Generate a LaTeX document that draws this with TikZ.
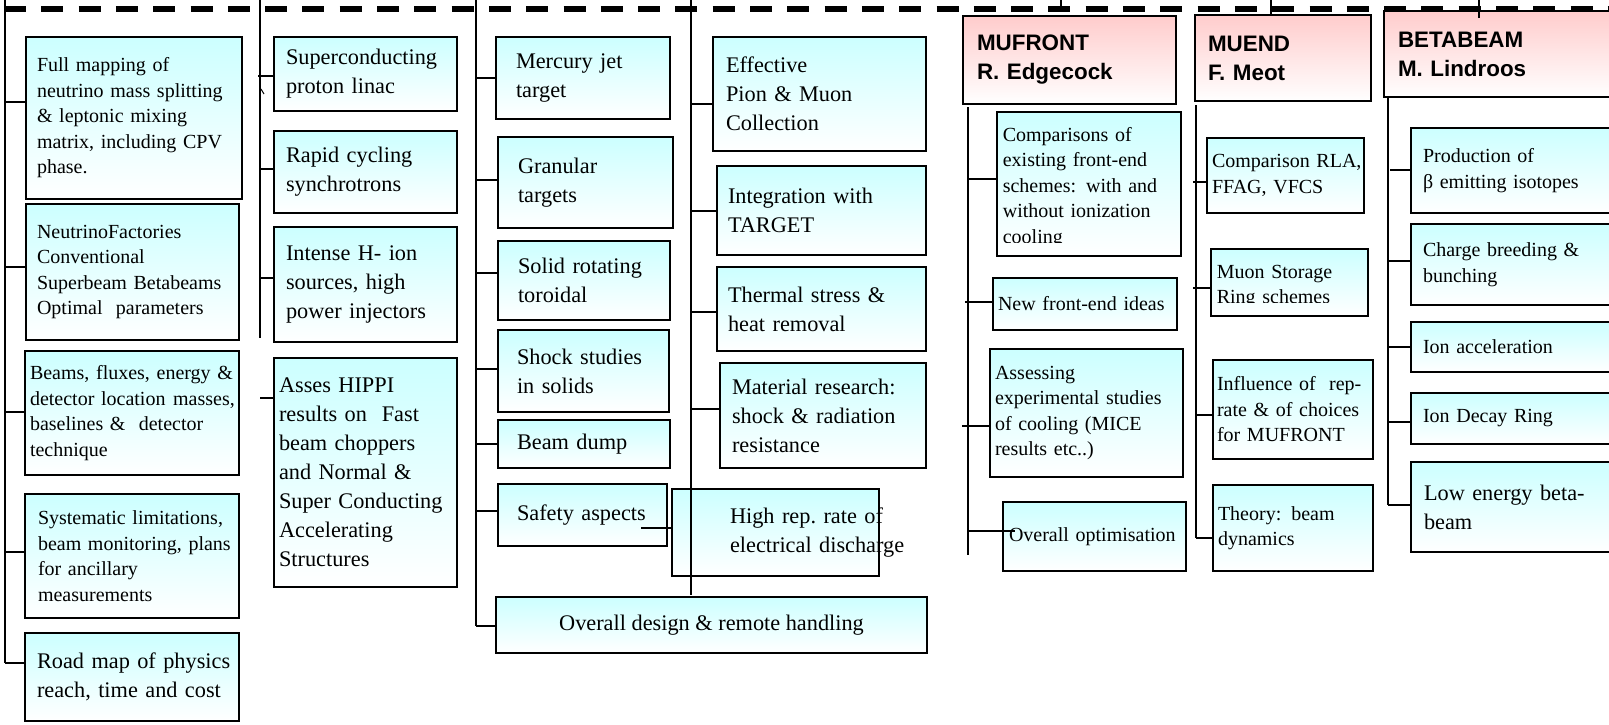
\documentclass[tikz,border=0pt]{standalone}
\usepackage{fontspec}
\setmainfont{Liberation Serif}
\newfontfamily\hdfont{Liberation Sans}
\hyphenpenalty=10000
\exhyphenpenalty=10000
\definecolor{bx_cyan}{RGB}{204, 255, 255}
\definecolor{bx_pink}{RGB}{255, 204, 204}
\tikzstyle{cb}=[rectangle,draw=black,top color=bx_cyan,bottom color=white,
  inner sep=0pt,align=left,font=\fontsize{22.3}{29}\selectfont]
\tikzstyle{cs}=[cb,font=\fontsize{20}{25.5}\selectfont]
\tikzstyle{pb}=[rectangle,draw=black,top color=bx_pink,bottom color=white,
  inner sep=0pt,align=left,font=\hdfont\bfseries\fontsize{22.4}{29}\selectfont]
\tikzstyle{tx}=[inner sep=0pt,align=left,font=\fontsize{20}{25.5}\selectfont]
\tikzstyle{dl}=[line width=6.4pt,dash pattern=on 22pt off 15.3pt]
\tikzstyle{none}=[]

\begin{document}
\begin{tikzpicture}[x=1pt,y=-1pt,line width=1.6pt]
            \useasboundingbox (0, 0) rectangle (1609, 725);
            \clip (0, 0) rectangle (1609, 725);
            % free ends
            \node [style=none] (101) at (5, 0) {};
            \node [style=none] (102) at (5, 102) {};
            \node [style=none] (103) at (5, 267) {};
            \node [style=none] (104) at (5, 412) {};
            \node [style=none] (105) at (5, 552) {};
            \node [style=none] (106) at (5, 663) {};
            \node [style=none] (107) at (260, 0) {};
            \node [style=none] (108) at (258, 76) {};
            \node [style=none] (109) at (260, 169) {};
            \node [style=none] (110) at (260, 278) {};
            \node [style=none] (111) at (260, 338) {};
            \node [style=none] (112) at (260, 398) {};
            \node [style=none] (113) at (261, 89) {};
            \node [style=none] (114) at (264, 94) {};
            \node [style=none] (115) at (476, 0) {};
            \node [style=none] (116) at (476, 78) {};
            \node [style=none] (117) at (476, 180) {};
            \node [style=none] (118) at (476, 273) {};
            \node [style=none] (119) at (476, 369) {};
            \node [style=none] (120) at (476, 444) {};
            \node [style=none] (121) at (476, 511) {};
            \node [style=none] (122) at (476, 626) {};
            \node [style=none] (123) at (691, 0) {};
            \node [style=none] (124) at (691, 104) {};
            \node [style=none] (125) at (691, 211) {};
            \node [style=none] (126) at (691, 312) {};
            \node [style=none] (127) at (691, 409) {};
            \node [style=none] (128) at (691, 595) {};
            \node [style=none] (129) at (641, 528) {};
            \node [style=none] (130) at (4, 9) {};
            \node [style=none] (131) at (1609, 9) {};
            \node [style=none] (132) at (1061, 0) {};
            \node [style=none] (133) at (1061, 12) {};
            \node [style=none] (134) at (1271, 0) {};
            \node [style=none] (135) at (1271, 14) {};
            \node [style=none] (136) at (1479, 0) {};
            \node [style=none] (137) at (1479, 18) {};
            \node [style=none] (138) at (968, 107) {};
            \node [style=none] (139) at (968, 179) {};
            \node [style=none] (140) at (965, 302) {};
            \node [style=none] (141) at (962, 426) {};
            \node [style=none] (142) at (968, 531) {};
            \node [style=none] (143) at (968, 555) {};
            \node [style=none] (144) at (1015, 531) {};
            \node [style=none] (145) at (1196, 105) {};
            \node [style=none] (146) at (1193, 182) {};
            \node [style=none] (147) at (1193, 288) {};
            \node [style=none] (148) at (1196, 415) {};
            \node [style=none] (149) at (1196, 538) {};
            \node [style=none] (150) at (1388, 97) {};
            \node [style=none] (151) at (1390, 170) {};
            \node [style=none] (152) at (1388, 261) {};
            \node [style=none] (153) at (1388, 347) {};
            \node [style=none] (154) at (1388, 422) {};
            \node [style=none] (155) at (1388, 505) {};
            \draw [style=dl] (130.center) to (131.center);
            % physics column
            \node [style=cs, minimum width=216pt, minimum height=162pt, text width=194pt] (1) at (134, 118) {Full mapping of\\neutrino~mass~splitting\\\& leptonic mixing\\matrix,~including~CPV\\phase.};
            \node [style=cs, minimum width=213pt, minimum height=136pt, text width=191pt] (2) at (132.5, 272) {NeutrinoFactories\\Conventional\\Superbeam~Betabeams\\Optimal~~parameters};
            \node [style=cs, minimum width=214pt, minimum height=124pt, text width=204pt] (3) at (132, 413) {Beams,~fluxes,~energy~\&\\detector~location~\kern1pt masses,\\baselines~\&~~detector\\technique};
            \node [style=cs, minimum width=214pt, minimum height=124pt, text width=188pt] (4) at (132, 556) {Systematic~limitations,\\beam~monitoring,~plans\\for ancillary\\measurements};
            \node [style=cb, minimum width=214pt, minimum height=88pt, text width=190pt] (5) at (132, 677) {Road~map~of~physics\\reach,~time~and~cost};
            % proton driver column
            \node [style=cb, minimum width=183pt, minimum height=74pt, text width=159pt] (6) at (365.5, 74) {Superconducting\\proton linac};
            \node [style=cb, minimum width=183pt, minimum height=82pt, text width=159pt] (7) at (365.5, 172) {Rapid cycling\\synchrotrons};
            \node [style=cb, minimum width=183pt, minimum height=115pt, text width=159pt] (8) at (365.5, 284.5) {Intense H- ion\\sources, high\\power~injectors};
            \node [style=cb, minimum width=183pt, minimum height=229pt, text width=173pt] (9) at (365.5, 472.5) {Asses HIPPI\\results~on~~Fast\\beam~choppers\\and~Normal~\&\\Super~Conducting\\Accelerating\\Structures};
            % target column
            \node [style=cb, minimum width=174pt, minimum height=82pt, text width=134pt] (10) at (583, 78) {Mercury~jet\\target};
            \node [style=cb, minimum width=175pt, minimum height=91pt, text width=135pt] (11) at (585.5, 182.5) {Granular\\targets};
            \node [style=cb, minimum width=172pt, minimum height=79pt, text width=132pt] (12) at (584, 280.5) {Solid~rotating\\toroidal};
            \node [style=cb, minimum width=171pt, minimum height=82pt, text width=133pt] (13) at (583.5, 371) {Shock~studies\\in solids};
            \node [style=cb, minimum width=172pt, minimum height=48pt, text width=134pt] (14) at (584, 444) {Beam~dump};
            \node [style=cb, minimum width=169pt, minimum height=62pt, text width=131pt] (15) at (582.5, 515) {Safety~aspects};
            \node [style=cb, minimum width=431pt, minimum height=56pt] (16) at (711.5, 625) {Overall design \& remote handling};
            % collection column
            \node [style=cb, minimum width=213pt, minimum height=114pt, text width=187pt] (17) at (819.5, 94) {Effective\\Pion~\&~Muon\\Collection};
            \node [style=cb, minimum width=209pt, minimum height=89pt, text width=187pt] (18) at (821.5, 210.5) {Integration~with\\TARGET};
            \node [style=cb, minimum width=209pt, minimum height=84pt, text width=187pt] (19) at (821.5, 309) {Thermal~stress~\&\\heat removal};
            \node [style=cb, minimum width=206pt, minimum height=105pt, text width=182pt] (20) at (823, 415.5) {Material~research:\\shock~\&~radiation\\resistance};
            \node [style=cb, minimum width=207pt, minimum height=87pt, text width=91pt] (21) at (775.5, 532.5) {High~rep.~rate~of\\electrical~discharge};
            % work package heads
            \node [style=pb, minimum width=213pt, minimum height=88pt, text width=185pt] (22) at (1069.5, 60) {MUFRONT\\R.~Edgecock};
            \node [style=pb, minimum width=176pt, minimum height=86pt, text width=150pt] (23) at (1283, 58) {MUEND\\F.~Meot};
            \node [style=pb, minimum width=256pt, minimum height=86pt, text width=228pt] (24) at (1512, 54) {BETABEAM\\M.~Lindroos};
            % mufront column
            \node [style=cs, minimum width=184pt, minimum height=144pt] (25) at (1089, 184) {};
            \node [style=cs, minimum width=184pt, minimum height=52pt, text width=174pt] (26) at (1085, 304) {New~front-end~ideas};
            \node [style=cs, minimum width=193pt, minimum height=128pt, text width=183pt] (27) at (1086.5, 413) {Assessing\\experimental~studies\\of cooling (MICE\\results etc..)};
            \node [style=cs, minimum width=183pt, minimum height=69pt, text width=171pt] (28) at (1094.5, 536.5) {Overall~optimisation};
            % muend column
            \node [style=cs, minimum width=157pt, minimum height=75pt, text width=147pt] (29) at (1285.5, 175.5) {Comparison~RLA,\\FFAG, VFCS};
            \node [style=cs, minimum width=157pt, minimum height=67pt] (30) at (1289.5, 282.5) {};
            \node [style=cs, minimum width=160pt, minimum height=99pt, text width=152pt] (31) at (1293, 409.5) {Influence~of~~rep-\\rate~\&~of~choices\\for MUFRONT};
            \node [style=cs, minimum width=160pt, minimum height=86pt, text width=150pt] (32) at (1293, 528) {Theory: beam\\dynamics};
            % betabeam column
            \node [style=cs, minimum width=229pt, minimum height=85pt, text width=205pt] (33) at (1525.5, 170.5) {Production of\\β emitting isotopes};
            \node [style=cs, minimum width=229pt, minimum height=81pt, text width=205pt] (34) at (1525.5, 264.5) {Charge breeding \&\\bunching};
            \node [style=cs, minimum width=229pt, minimum height=50pt, text width=205pt] (35) at (1525.5, 347) {Ion acceleration};
            \node [style=cs, minimum width=229pt, minimum height=51pt, text width=205pt] (36) at (1525.5, 418.5) {Ion Decay Ring};
            \node [style=cb, minimum width=229pt, minimum height=90pt, text width=203pt] (37) at (1525.5, 507) {Low energy beta-\\beam};
            % cut-off texts
            \begin{scope}
                \clip (997, 112) rectangle (1181, 242);
                \node [style=tx, anchor=base west, text width=176pt] (38) at (1002, 141) {Comparisons of\\existing front-end\\schemes: with and\\without ionization\\cooling};
            \end{scope}
            \begin{scope}
                \clip (1211, 249) rectangle (1368, 302);
                \node [style=tx, anchor=base west, text width=150pt] (39) at (1216, 278) {Muon Storage\\Ring schemes};
            \end{scope}
            % connectors
            \draw (101.center) to (106.center);
            \draw (102.center) to (102.center -| 1.west);
            \draw (103.center) to (103.center -| 2.west);
            \draw (104.center) to (104.center -| 3.west);
            \draw (105.center) to (105.center -| 4.west);
            \draw (106.center) to (106.center -| 5.west);
            \draw (107.center) to (111.center);
            \draw (108.center) to (108.center -| 6.west);
            \draw (109.center) to (109.center -| 7.west);
            \draw (110.center) to (110.center -| 8.west);
            \draw (112.center) to (112.center -| 9.west);
            \draw [line width=1pt] (113.center) to (114.center);
            \draw (115.center) to (122.center);
            \draw (116.center) to (116.center -| 10.west);
            \draw (117.center) to (117.center -| 11.west);
            \draw (118.center) to (118.center -| 12.west);
            \draw (119.center) to (119.center -| 13.west);
            \draw (120.center) to (120.center -| 14.west);
            \draw (121.center) to (121.center -| 15.west);
            \draw (122.center) to (122.center -| 16.west);
            \draw (123.center) to (128.center);
            \draw (124.center) to (124.center -| 17.west);
            \draw (125.center) to (125.center -| 18.west);
            \draw (126.center) to (126.center -| 19.west);
            \draw (127.center) to (127.center -| 20.west);
            \draw (129.center) to (129.center -| 21.west);
            \draw (132.center) to (133.center);
            \draw (134.center) to (135.center);
            \draw (136.center) to (137.center);
            \draw (138.center) to (143.center);
            \draw (139.center) to (139.center -| 25.west);
            \draw (140.center) to (140.center -| 26.west);
            \draw (141.center) to (141.center -| 27.west);
            \draw (142.center) to (144.center);
            \draw (145.center) to (149.center);
            \draw (146.center) to (146.center -| 29.west);
            \draw (147.center) to (147.center -| 30.west);
            \draw (148.center) to (148.center -| 31.west);
            \draw (149.center) to (149.center -| 32.west);
            \draw (150.center) to (155.center);
            \draw (151.center) to (151.center -| 33.west);
            \draw (152.center) to (152.center -| 34.west);
            \draw (153.center) to (153.center -| 35.west);
            \draw (154.center) to (154.center -| 36.west);
            \draw (155.center) to (155.center -| 37.west);
    \end{tikzpicture}
\end{document}
